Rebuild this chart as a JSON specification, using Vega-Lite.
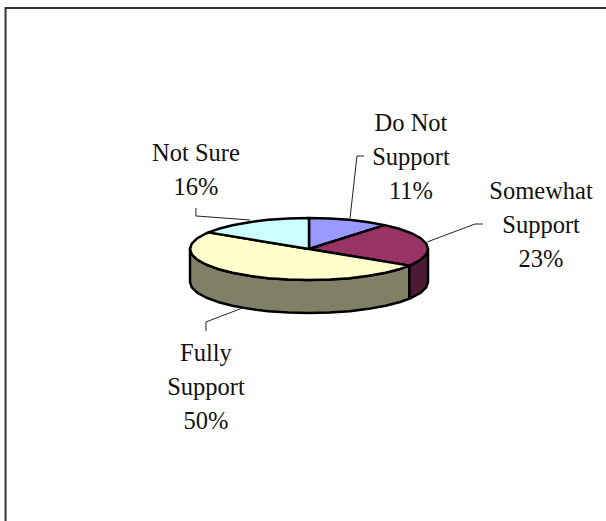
{"$schema":"https://vega.github.io/schema/vega-lite/v6.json","width":606,"height":521,"padding":0,"autosize":{"type":"fit","contains":"padding"},"background":"white","config":{"view":{"stroke":null}},
"datasets":{
"frame":[{"s":1,"x":-2.55,"y":-8.774},{"s":2,"x":-2.55,"y":7.774},{"s":3,"x":2.4958,"y":7.774}],
"pie":[
{"part":"Fully Support side","s":1,"x":0.844,"y":-0.536},{"part":"Fully Support side","s":2,"x":0.766,"y":-0.643},{"part":"Fully Support side","s":3,"x":0.643,"y":-0.766},{"part":"Fully Support side","s":4,"x":0.5,"y":-0.866},{"part":"Fully Support side","s":5,"x":0.342,"y":-0.94},{"part":"Fully Support side","s":6,"x":0.174,"y":-0.985},{"part":"Fully Support side","s":7,"x":0,"y":-1},{"part":"Fully Support side","s":8,"x":-0.174,"y":-0.985},{"part":"Fully Support side","s":9,"x":-0.342,"y":-0.94},{"part":"Fully Support side","s":10,"x":-0.5,"y":-0.866},{"part":"Fully Support side","s":11,"x":-0.643,"y":-0.766},{"part":"Fully Support side","s":12,"x":-0.766,"y":-0.643},{"part":"Fully Support side","s":13,"x":-0.866,"y":-0.5},{"part":"Fully Support side","s":14,"x":-0.94,"y":-0.342},{"part":"Fully Support side","s":15,"x":-0.985,"y":-0.174},{"part":"Fully Support side","s":16,"x":-1,"y":0},
{"part":"Fully Support side","s":17,"x":-1,"y":-1.065},{"part":"Fully Support side","s":18,"x":-0.985,"y":-1.239},{"part":"Fully Support side","s":19,"x":-0.94,"y":-1.407},{"part":"Fully Support side","s":20,"x":-0.866,"y":-1.565},{"part":"Fully Support side","s":21,"x":-0.766,"y":-1.708},{"part":"Fully Support side","s":22,"x":-0.643,"y":-1.831},{"part":"Fully Support side","s":23,"x":-0.5,"y":-1.931},{"part":"Fully Support side","s":24,"x":-0.342,"y":-2.005},{"part":"Fully Support side","s":25,"x":-0.174,"y":-2.05},{"part":"Fully Support side","s":26,"x":0,"y":-2.065},{"part":"Fully Support side","s":27,"x":0.174,"y":-2.05},{"part":"Fully Support side","s":28,"x":0.342,"y":-2.005},{"part":"Fully Support side","s":29,"x":0.5,"y":-1.931},{"part":"Fully Support side","s":30,"x":0.643,"y":-1.831},{"part":"Fully Support side","s":31,"x":0.766,"y":-1.708},{"part":"Fully Support side","s":32,"x":0.844,"y":-1.601},{"part":"Fully Support side","s":33,"x":0.844,"y":-0.536},
{"part":"Somewhat Support side","s":1,"x":1,"y":0},{"part":"Somewhat Support side","s":2,"x":0.985,"y":-0.174},{"part":"Somewhat Support side","s":3,"x":0.94,"y":-0.342},{"part":"Somewhat Support side","s":4,"x":0.866,"y":-0.5},{"part":"Somewhat Support side","s":5,"x":0.844,"y":-0.536},{"part":"Somewhat Support side","s":6,"x":0.844,"y":-1.601},{"part":"Somewhat Support side","s":7,"x":0.866,"y":-1.565},{"part":"Somewhat Support side","s":8,"x":0.94,"y":-1.407},{"part":"Somewhat Support side","s":9,"x":0.985,"y":-1.239},{"part":"Somewhat Support side","s":10,"x":1,"y":-1.065},{"part":"Somewhat Support side","s":11,"x":1,"y":0},
{"part":"Do Not Support","s":1,"x":0,"y":0},{"part":"Do Not Support","s":2,"x":0,"y":1},{"part":"Do Not Support","s":3,"x":0.174,"y":0.985},{"part":"Do Not Support","s":4,"x":0.342,"y":0.94},{"part":"Do Not Support","s":5,"x":0.5,"y":0.866},{"part":"Do Not Support","s":6,"x":0.637,"y":0.77},{"part":"Do Not Support","s":7,"x":0,"y":0},
{"part":"Somewhat Support","s":1,"x":0,"y":0},{"part":"Somewhat Support","s":2,"x":0.637,"y":0.77},{"part":"Somewhat Support","s":3,"x":0.766,"y":0.643},{"part":"Somewhat Support","s":4,"x":0.866,"y":0.5},{"part":"Somewhat Support","s":5,"x":0.94,"y":0.342},{"part":"Somewhat Support","s":6,"x":0.985,"y":0.174},{"part":"Somewhat Support","s":7,"x":1,"y":0},{"part":"Somewhat Support","s":8,"x":0.985,"y":-0.174},{"part":"Somewhat Support","s":9,"x":0.94,"y":-0.342},{"part":"Somewhat Support","s":10,"x":0.866,"y":-0.5},{"part":"Somewhat Support","s":11,"x":0.844,"y":-0.536},{"part":"Somewhat Support","s":12,"x":0,"y":0},
{"part":"Fully Support","s":1,"x":0,"y":0},{"part":"Fully Support","s":2,"x":0.844,"y":-0.536},{"part":"Fully Support","s":3,"x":0.766,"y":-0.643},{"part":"Fully Support","s":4,"x":0.643,"y":-0.766},{"part":"Fully Support","s":5,"x":0.5,"y":-0.866},{"part":"Fully Support","s":6,"x":0.342,"y":-0.94},{"part":"Fully Support","s":7,"x":0.174,"y":-0.985},{"part":"Fully Support","s":8,"x":0,"y":-1},{"part":"Fully Support","s":9,"x":-0.174,"y":-0.985},{"part":"Fully Support","s":10,"x":-0.342,"y":-0.94},{"part":"Fully Support","s":11,"x":-0.5,"y":-0.866},{"part":"Fully Support","s":12,"x":-0.643,"y":-0.766},{"part":"Fully Support","s":13,"x":-0.766,"y":-0.643},{"part":"Fully Support","s":14,"x":-0.866,"y":-0.5},{"part":"Fully Support","s":15,"x":-0.94,"y":-0.342},{"part":"Fully Support","s":16,"x":-0.985,"y":-0.174},{"part":"Fully Support","s":17,"x":-1,"y":0},{"part":"Fully Support","s":18,"x":-0.985,"y":0.174},{"part":"Fully Support","s":19,"x":-0.94,"y":0.342},{"part":"Fully Support","s":20,"x":-0.866,"y":0.5},{"part":"Fully Support","s":21,"x":-0.844,"y":0.536},{"part":"Fully Support","s":22,"x":0,"y":0},
{"part":"Not Sure","s":1,"x":0,"y":0},{"part":"Not Sure","s":2,"x":-0.844,"y":0.536},{"part":"Not Sure","s":3,"x":-0.766,"y":0.643},{"part":"Not Sure","s":4,"x":-0.643,"y":0.766},{"part":"Not Sure","s":5,"x":-0.5,"y":0.866},{"part":"Not Sure","s":6,"x":-0.342,"y":0.94},{"part":"Not Sure","s":7,"x":-0.174,"y":0.985},{"part":"Not Sure","s":8,"x":0,"y":1},{"part":"Not Sure","s":9,"x":0,"y":0}
],
"leaders":[
{"l":"Do Not Support","s":1,"x":0.345,"y":1},{"l":"Do Not Support","s":2,"x":0.403,"y":3},{"l":"Do Not Support","s":3,"x":0.462,"y":3},
{"l":"Somewhat Support","s":1,"x":0.992,"y":0.226},{"l":"Somewhat Support","s":2,"x":1.395,"y":0.806},{"l":"Somewhat Support","s":3,"x":1.462,"y":0.806},
{"l":"Not Sure","s":1,"x":-0.95,"y":1.323},{"l":"Not Sure","s":2,"x":-0.95,"y":1.065},{"l":"Not Sure","s":3,"x":-0.496,"y":0.935},
{"l":"Fully Support","s":1,"x":-0.866,"y":-2.645},{"l":"Fully Support","s":2,"x":-0.866,"y":-2.355},{"l":"Fully Support","s":3,"x":-0.538,"y":-1.871}
],
"labels":[
{"t":"Do Not","x":0.857,"y":4.032},{"t":"Support","x":0.857,"y":2.935},{"t":"11%","x":0.857,"y":1.839},
{"t":"Somewhat","x":1.95,"y":1.839},{"t":"Support","x":1.95,"y":0.742},{"t":"23%","x":1.95,"y":-0.355},
{"t":"Not Sure","x":-0.95,"y":3.065},{"t":"16%","x":-0.95,"y":1.968},
{"t":"Fully","x":-0.866,"y":-3.387},{"t":"Support","x":-0.866,"y":-4.484},{"t":"50%","x":-0.866,"y":-5.581}
]},
"encoding":{
"x":{"field":"x","type":"quantitative","axis":null,"scale":{"domain":[-2.5966,2.4958],"nice":false,"zero":false}},
"y":{"field":"y","type":"quantitative","axis":null,"scale":{"domain":[-8.774,8.032],"nice":false,"zero":false}}
},
"layer":[
{"data":{"name":"frame"},"mark":{"type":"line","stroke":"#333333","strokeWidth":2,"clip":true},"encoding":{"order":{"field":"s","type":"quantitative"}}},
{"data":{"name":"pie"},"mark":{"type":"line","stroke":"black","strokeWidth":2.5,"strokeJoin":"round"},"encoding":{"order":{"field":"s","type":"quantitative"},"detail":{"field":"part"},"fill":{"field":"part","type":"nominal","legend":null,"scale":{"domain":["Do Not Support","Somewhat Support","Fully Support","Not Sure","Fully Support side","Somewhat Support side"],"range":["#9999FF","#993366","#FFFFCC","#CCFFFF","#808066","#4D1A33"]}}}},
{"data":{"name":"leaders"},"mark":{"type":"line","stroke":"#222222","strokeWidth":1},"encoding":{"order":{"field":"s","type":"quantitative"},"detail":{"field":"l"}}},
{"data":{"name":"labels"},"mark":{"type":"text","font":"Liberation Serif","fontSize":24.5,"color":"#111111","align":"center","baseline":"middle"},"encoding":{"text":{"field":"t"}}}
]}
